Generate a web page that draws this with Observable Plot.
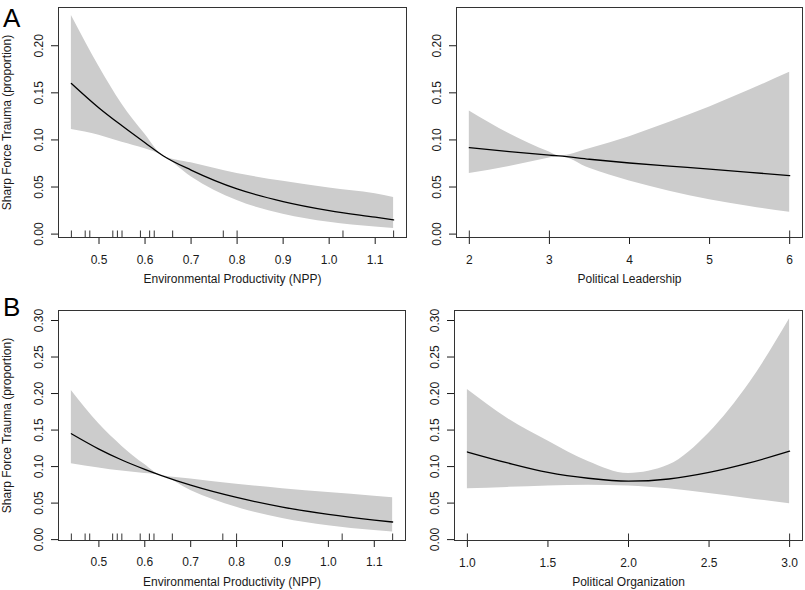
<!DOCTYPE html>
<html><head><meta charset="utf-8">
<script src="https://cdn.jsdelivr.net/npm/d3@7"></script>
<script src="https://cdn.jsdelivr.net/npm/@observablehq/plot@0.6"></script>
<style>
body{margin:0;background:#fff}
#wrap{position:relative;width:805px;height:590px;font-family:"Liberation Sans",Arial,sans-serif;background:#fff}
.panel{position:absolute}
.tag{position:absolute;font-size:26px;line-height:26px;color:#000;z-index:2}
</style></head><body>
<div id="wrap">
 <div class="tag" style="left:3px;top:5px">A</div>
 <div class="tag" style="left:3px;top:294px">B</div>
</div>
<script>
// ---------- Data ----------
// Rug of observed environmental productivity values (same in A and B)
const nppRug = [0.44,0.47,0.48,0.53,0.54,0.55,0.59,0.61,0.62,0.66,0.77,0.80,1.03,1.14];
const leaderRug = [2,3,6];
const orgRug = [1,2,3];

// Panel A, left: Environmental Productivity
const nppA   = [0.44, 0.50, 0.55, 0.60, 0.64, 0.70, 0.80, 0.90, 1.00, 1.10, 1.14];
const fitA   = [0.160,0.134,0.115,0.097,0.083,0.068,0.048,0.0346,0.025,0.018,0.0152];
const loA    = [0.111,0.105,0.0975,0.0905,0.083,0.061,0.0357,0.0212,0.0126,0.0075,0.006];
const hiA    = [0.232,0.178,0.138,0.106,0.083,0.0757,0.0644,0.056,0.0489,0.0428,0.039];

// Panel A, right: Political Leadership
const leadA  = [2, 2.5, 3, 3.12, 3.5, 4, 4.5, 5, 5.5, 6];
const fitA2  = [0.0918,0.0875,0.0838,0.083,0.0795,0.0755,0.0722,0.069,0.0656,0.0621];
const loA2   = [0.0643,0.0718,0.0807,0.083,0.0698,0.0563,0.0455,0.0366,0.0293,0.0233];
const hiA2   = [0.1307,0.1066,0.0871,0.083,0.0907,0.1035,0.1187,0.135,0.153,0.1718];

// Panel B, left: Environmental Productivity
const nppB   = [0.44, 0.50, 0.55, 0.60, 0.635, 0.70, 0.80, 0.90, 1.00, 1.10, 1.14];
const fitB   = [0.145,0.124,0.109,0.0962,0.088,0.0745,0.0577,0.0446,0.0346,0.0268,0.0241];
const loB    = [0.104,0.0982,0.0939,0.0904,0.088,0.0672,0.0442,0.029,0.019,0.0124,0.0104];
const hiB    = [0.204,0.1585,0.128,0.1028,0.088,0.0829,0.0759,0.0698,0.0644,0.0594,0.0574];

// Panel B, right: Political Organization
const orgB   = [1.0, 1.25, 1.5, 1.75, 2.0, 2.25, 2.5, 2.75, 3.0];
const fitB2  = [0.120,0.105,0.092,0.084,0.080,0.083,0.092,0.105,0.121];
const loB2   = [0.0697,0.0715,0.0735,0.0745,0.0735,0.0695,0.063,0.056,0.0492];
const hiB2   = [0.2056,0.166,0.135,0.107,0.0905,0.102,0.146,0.214,0.3023];

// Tick values and labels
const yTicksA = [0, 0.05, 0.10, 0.15, 0.20];
const yTicksB = [0, 0.05, 0.10, 0.15, 0.20, 0.25, 0.30];
const nppTicks = [0.5,0.6,0.7,0.8,0.9,1.0,1.1];
const leadTicks = [2,3,4,5,6];
const orgTicks = [1.0,1.5,2.0,2.5,3.0];
const yTitle = "Sharp Force Trauma (proportion)";
const xTitleNPP = "Environmental Productivity (NPP)";
const xTitleLead = "Political Leadership";
const xTitleOrg = "Political Organization";

// ---------- Drawing ----------
const wrap = document.getElementById("wrap");
const FONT = '"Liberation Sans", Arial, Helvetica, sans-serif';

function panel(o) {
  const rows = o.x.map((x, i) => ({x, fit: o.fit[i], lo: o.lo[i], hi: o.hi[i]}));
  const fh = o.height - o.mt - o.mb;
  const svg = Plot.plot({
    width: o.width, height: o.height,
    marginLeft: o.ml, marginRight: o.mr, marginTop: o.mt, marginBottom: o.mb,
    style: {fontFamily: FONT, fontSize: "12px", color: "#1a1a1a", background: "transparent", overflow: "visible"},
    x: {domain: o.xDomain},
    y: {domain: o.yDomain},
    marks: [
      Plot.areaY(rows, {x: "x", y1: "lo", y2: "hi", fill: "#cccccc", curve: "monotone-x"}),
      Plot.lineY(rows, {x: "x", y: "fit", stroke: "#000", strokeWidth: 1.3, curve: "monotone-x"}),
      Plot.tickX(o.rug, {x: d => d, insetTop: fh - 6.5, stroke: "#333"}),
      Plot.axisX({ticks: o.xTicks, tickFormat: o.xFmt, tickSize: 7, tickPadding: o.xPad,
        label: o.xLabel, labelAnchor: "center", labelArrow: false, labelOffset: 45}),
      Plot.axisY({ticks: o.yTicks, tickFormat: d3.format(".2f"), tickSize: 7, tickRotate: -90, tickPadding: 9,
        label: o.yLabel, labelAnchor: "center", labelArrow: false, labelOffset: 56}),
      Plot.frame({stroke: "#333"})
    ]
  });
  svg.classList.add("panel");
  svg.style.left = o.left + "px";
  svg.style.top = o.top + "px";
  wrap.appendChild(svg);
}

const f1 = d3.format(".1f"), f0 = d3.format("d");

panel({left: 0, top: 0, width: 410, height: 295, ml: 58, mr: 4, mt: 7, mb: 58,
  x: nppA, fit: fitA, lo: loA, hi: hiA, rug: nppRug,
  xDomain: [0.412, 1.168], yDomain: [-0.0036, 0.2406],
  xTicks: nppTicks, xFmt: f1, xPad: 11, yTicks: yTicksA, xLabel: xTitleNPP, yLabel: yTitle});

panel({left: 410, top: 0, width: 395, height: 295, ml: 46, mr: 3, mt: 7, mb: 58,
  x: leadA, fit: fitA2, lo: loA2, hi: hiA2, rug: leaderRug,
  xDomain: [1.84, 6.16], yDomain: [-0.0036, 0.2406],
  xTicks: leadTicks, xFmt: f0, xPad: 11, yTicks: yTicksA, xLabel: xTitleLead, yLabel: null});

panel({left: 0, top: 295, width: 410, height: 295, ml: 58, mr: 5, mt: 15, mb: 50,
  x: nppB, fit: fitB, lo: loB, hi: hiB, rug: nppRug,
  xDomain: [0.412, 1.168], yDomain: [-0.0012, 0.3137],
  xTicks: nppTicks, xFmt: f1, xPad: 10, yTicks: yTicksB, xLabel: xTitleNPP, yLabel: yTitle});

panel({left: 410, top: 295, width: 395, height: 295, ml: 44, mr: 3, mt: 15, mb: 50,
  x: orgB, fit: fitB2, lo: loB2, hi: hiB2, rug: orgRug,
  xDomain: [0.92, 3.08], yDomain: [-0.0012, 0.3137],
  xTicks: orgTicks, xFmt: f1, xPad: 10.5, yTicks: yTicksB, xLabel: xTitleOrg, yLabel: null});
</script>
</body></html>
